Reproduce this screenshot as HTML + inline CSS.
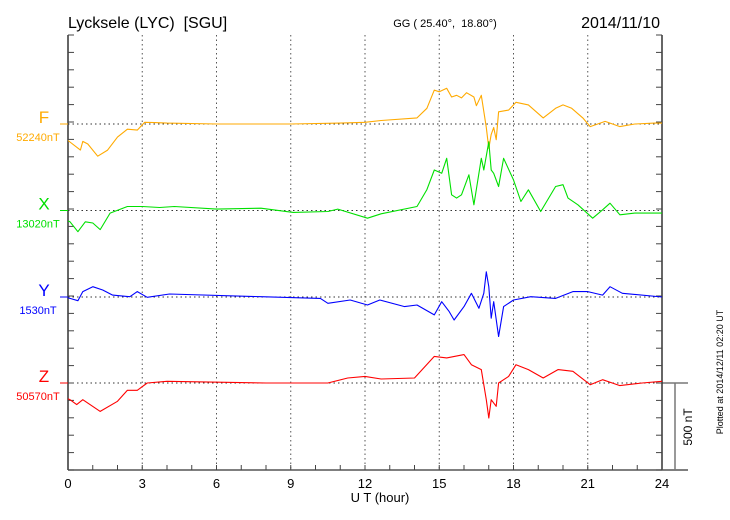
<!DOCTYPE html>
<html><head><meta charset="utf-8"><style>
body{margin:0;background:#fff}
svg{display:block;font-family:"Liberation Sans",sans-serif}
text{white-space:pre}
</style></head><body>
<svg id="c" width="730" height="520" viewBox="0 0 730 520">
<text x="68" y="28" font-size="16">Lycksele (LYC)  [SGU]</text>
<text x="445" y="27" font-size="11" text-anchor="middle">GG ( 25.40°,  18.80°)</text>
<text x="660" y="28" font-size="16" text-anchor="end">2014/11/10</text>
<text x="380" y="502" font-size="13" text-anchor="middle">U T (hour)</text>
<text transform="translate(723,372) rotate(-90)" font-size="9" text-anchor="middle">Plotted at 2014/12/11 02:20 UT</text>
<g id="grid"></g><g id="axes"></g><g id="series"></g>
</svg>
<script>
const hourTicks=[0,3,6,9,12,15,18,21,24];
const compNames=["F","X","Y","Z"];
const compBase=["52240nT","13020nT","1530nT","50570nT"];
const compColors=["#ffaa00","#00e000","#0000ff","#ff0000"];
const fT=[0,0.5,0.6,0.8,1.2,1.6,2.0,2.4,2.8,3.1,3.5,4,6,9,11,12,12.65,14.1,14.5,14.8,15.0,15.3,15.5,15.7,15.9,16.1,16.4,16.5,16.7,16.9,17.0,17.1,17.2,17.3,17.4,17.8,18.1,18.6,19.2,19.7,20.0,20.35,20.8,21.1,21.7,22.3,22.9,23.7,24];
const fV=[-95,-150,-100,-115,-185,-150,-75,-30,-35,10,8,5,0,0,5,10,20,35,90,195,185,205,155,165,150,180,155,105,165,-20,-140,-60,-20,-90,70,80,125,110,35,90,110,90,35,-15,15,-15,0,5,5];
const xT=[0,0.08,0.4,0.7,1.0,1.3,1.7,2.4,3.0,3.7,4.3,6.0,7.8,9.1,10.5,10.9,12.1,12.65,14.1,14.5,14.8,15.1,15.3,15.5,15.7,15.9,16.2,16.4,16.7,16.8,17.0,17.1,17.2,17.4,17.6,18.0,18.3,18.6,19.1,19.7,20.0,20.2,20.6,21.2,21.6,21.9,22.3,22.9,24];
const xV=[-60,-65,-122,-65,-72,-110,-15,23,23,17,23,8,13,-11,-6,8,-44,-19,23,120,233,214,300,90,71,90,205,33,300,233,395,233,214,138,300,176,52,119,-6,138,148,71,33,-44,4,42,-25,-15,-15];
const yT=[0,0.08,0.4,0.6,1.0,1.4,1.8,2.5,2.8,3.2,4.1,7.8,10.2,10.5,11.4,12.1,12.6,13.6,14.1,14.8,15.1,15.4,15.6,16.0,16.3,16.6,16.8,16.9,17.0,17.1,17.2,17.4,17.6,18.0,18.7,19.7,20.4,21.0,21.6,21.9,22.4,24];
const yV=[-5,-8,-21,31,59,40,11,2,31,-2,17,2,-8,-36,-17,-46,-17,-55,-46,-103,-27,-84,-132,-55,21,-65,21,145,59,-122,-27,-227,-55,-17,2,-8,31,31,11,59,21,0];
const zT=[0,0.08,0.35,0.6,1.3,2.0,2.4,2.8,3.2,4,8,10.5,11.3,12.0,12.65,14.0,14.8,15.3,16.0,16.3,16.7,16.9,17.0,17.1,17.3,17.4,17.8,18.1,18.6,19.2,19.8,20.4,21.1,21.6,22.3,23.2,24];
const zV=[-90,-96,-124,-96,-163,-105,-42,-42,0,10,0,0,29,38,23,29,153,144,163,105,77,-96,-201,-96,-134,0,38,105,77,29,77,67,-10,19,-15,0,10];
const seriesT=[fT,xT,yT,zT], seriesV=[fV,xV,yV,zV];

const X0=68,X1=662,Ytop=35,Ybot=470;
const baseY=[124,210.5,297,383];
const pxPerNT=87/500;
const xs=h=>X0+h*(X1-X0)/24;
const ys=(i,v)=>baseY[i]-v*pxPerNT;
const NS="http://www.w3.org/2000/svg";
function mk(tag,at,parent){const e=document.createElementNS(NS,tag);for(const k in at)e.setAttribute(k,at[k]);document.getElementById(parent).appendChild(e);return e;}

hourTicks.slice(1,-1).forEach(h=>{
 const l=mk("line",{x1:xs(h),x2:xs(h),y1:Ytop,y2:Ybot,stroke:"#555","stroke-dasharray":"1.5,3","stroke-width":1},"grid");
 
 
});
baseY.forEach((b,i)=>{
 const l=mk("line",{x1:X0,x2:X1,y1:b,y2:b,stroke:"#333","stroke-dasharray":"1.5,3","stroke-width":1},"grid");
 
 
});
let a;
a=mk("line",{x1:X0,x2:X0,y1:Ytop,y2:Ybot,stroke:"#333","stroke-width":1.5},"axes");


a=mk("line",{x1:X1,x2:X1,y1:Ytop,y2:Ybot,stroke:"#333","stroke-width":1.5},"axes");


a=mk("line",{x1:X0,x2:688,y1:Ybot,y2:Ybot,stroke:"#555","stroke-width":1.5},"axes");


for(let k=0;k<=25;k++){
 const y=Ybot-k*(Ybot-Ytop)/25;
 mk("line",{x1:X0,x2:X0+6,y1:y,y2:y,stroke:"#444"},"axes");
 mk("line",{x1:X1-6,x2:X1,y1:y,y2:y,stroke:"#444"},"axes");
}
for(let h=1;h<24;h++){mk("line",{x1:xs(h),x2:xs(h),y1:Ybot-5,y2:Ybot,stroke:"#444"},"axes");}
hourTicks.forEach(h=>{
 const t=mk("text",{x:xs(h),y:488,"font-size":13,"text-anchor":"middle"},"axes");
 t.textContent=h;
 
 
});
a=mk("line",{x1:X1,x2:688,y1:383,y2:383,stroke:"#333"},"axes");


a=mk("line",{x1:675,x2:675,y1:383,y2:Ybot,stroke:"#777","stroke-width":1.5},"axes");


a=mk("text",{transform:"translate(692,427) rotate(-90)","font-size":12,"text-anchor":"middle"},"axes");
a.textContent="500 nT";


compNames.forEach((n,i)=>{
 const t=seriesT[i],v=seriesV[i];
 const d=t.map((h,j)=>(j?"L":"M")+xs(h).toFixed(1)+","+ys(i,v[j]).toFixed(1)).join("");
 const p=mk("path",{d:d,fill:"none",stroke:compColors[i],"stroke-width":1.1,"stroke-linejoin":"round"},"series");
 
 
 const l=mk("text",{x:44,y:baseY[i]-1,"font-size":17,"text-anchor":"middle",fill:compColors[i]},"series");
 l.textContent=n;
 
 
 const b=mk("text",{x:38,y:baseY[i]+17,"font-size":11,"text-anchor":"middle",fill:compColors[i]},"series");
 b.textContent=compBase[i];
 
 
 const tk=mk("line",{x1:60,x2:X0,y1:baseY[i],y2:baseY[i],stroke:compColors[i]},"series");
 
 
});
</script>
</body></html>
